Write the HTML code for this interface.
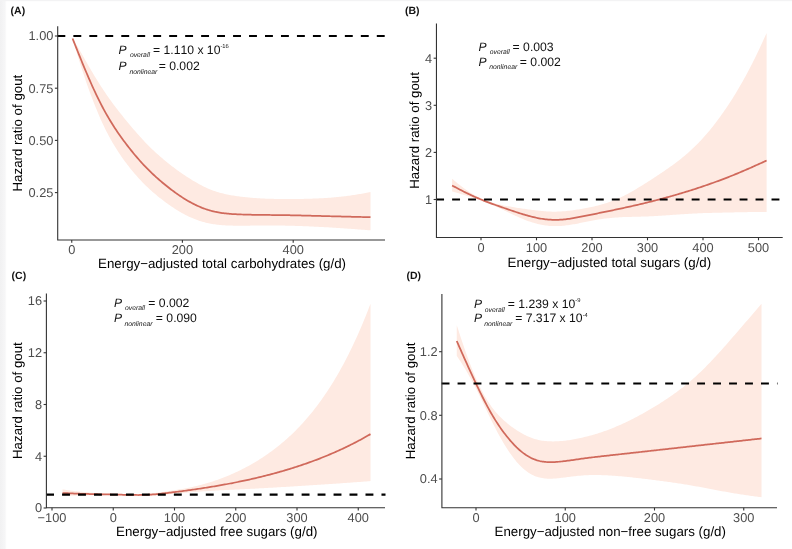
<!DOCTYPE html>
<html lang="en">
<head>
<meta charset="utf-8">
<title>Hazard ratio of gout by energy-adjusted carbohydrate and sugar intake</title>
<style>
html,body{margin:0;padding:0;background:#fff;}
body{width:792px;height:549px;overflow:hidden;position:relative;}
svg{position:absolute;left:0;top:0;display:block;will-change:transform;}
svg text{font-family:"Liberation Sans",Arial,Helvetica,sans-serif;text-rendering:geometricPrecision;}
</style>
</head>
<body>
<svg width="792" height="549" viewBox="0 0 792 549">
<defs><linearGradient id="lg" x1="0" y1="0" x2="1" y2="0"><stop offset="0" stop-color="#f1f1f2"/><stop offset="0.75" stop-color="#f6f6f7"/><stop offset="1" stop-color="#fcfcfc"/></linearGradient></defs>
<rect x="0" y="0" width="792" height="549" fill="#ffffff"/>
<rect x="0" y="0" width="6.3" height="549" fill="url(#lg)"/>
<rect x="0" y="0" width="792" height="1.2" fill="#f3f3f4"/>
<path d="M72.55 38.07 L73.80 40.16 L75.04 42.28 L76.29 44.42 L77.54 46.57 L78.78 48.74 L80.03 50.91 L81.28 53.10 L82.52 55.28 L83.77 57.47 L85.02 59.65 L86.26 61.83 L87.51 64.00 L88.76 66.16 L90.00 68.30 L91.25 70.43 L92.50 72.54 L93.74 74.63 L94.99 76.70 L96.24 78.74 L97.48 80.77 L98.73 82.77 L99.98 84.74 L101.22 86.69 L102.47 88.61 L103.72 90.50 L104.96 92.36 L106.21 94.19 L107.46 96.00 L108.70 97.78 L109.95 99.53 L111.20 101.26 L112.44 102.96 L113.69 104.64 L114.94 106.29 L116.18 107.93 L117.43 109.55 L118.68 111.15 L119.92 112.74 L121.17 114.31 L122.42 115.86 L123.66 117.40 L124.91 118.94 L126.16 120.46 L127.40 121.97 L128.65 123.47 L129.90 124.97 L131.14 126.45 L132.39 127.93 L133.64 129.39 L134.88 130.84 L136.13 132.28 L137.38 133.70 L138.62 135.11 L139.87 136.50 L141.12 137.87 L142.36 139.23 L143.61 140.56 L144.86 141.88 L146.10 143.18 L147.35 144.46 L148.60 145.72 L149.84 146.96 L151.09 148.18 L152.34 149.39 L153.58 150.57 L154.83 151.73 L156.08 152.88 L157.32 154.01 L158.57 155.12 L159.82 156.22 L161.06 157.30 L162.31 158.37 L163.56 159.42 L164.80 160.46 L166.05 161.48 L167.30 162.50 L168.54 163.50 L169.79 164.48 L171.04 165.46 L172.28 166.42 L173.53 167.37 L174.78 168.31 L176.02 169.23 L177.27 170.15 L178.52 171.05 L179.76 171.93 L181.01 172.81 L182.26 173.67 L183.50 174.52 L184.75 175.35 L186.00 176.18 L187.24 176.99 L188.49 177.80 L189.74 178.58 L190.98 179.36 L192.23 180.13 L193.48 180.88 L194.72 181.62 L195.97 182.35 L197.22 183.06 L198.46 183.76 L199.71 184.44 L200.96 185.11 L202.20 185.76 L203.45 186.39 L204.70 187.00 L205.94 187.59 L207.19 188.16 L208.44 188.71 L209.68 189.24 L210.93 189.74 L212.18 190.22 L213.42 190.68 L214.67 191.11 L215.92 191.53 L217.16 191.92 L218.41 192.30 L219.66 192.66 L220.90 192.99 L222.15 193.32 L223.39 193.62 L224.64 193.91 L225.89 194.19 L227.13 194.45 L228.38 194.70 L229.63 194.94 L230.87 195.16 L232.12 195.38 L233.37 195.58 L234.61 195.78 L235.86 195.96 L237.11 196.14 L238.35 196.31 L239.60 196.48 L240.85 196.64 L242.09 196.79 L243.34 196.94 L244.59 197.08 L245.83 197.21 L247.08 197.34 L248.33 197.47 L249.57 197.59 L250.82 197.70 L252.07 197.81 L253.31 197.91 L254.56 198.01 L255.81 198.10 L257.05 198.19 L258.30 198.27 L259.55 198.34 L260.79 198.41 L262.04 198.48 L263.29 198.54 L264.53 198.60 L265.78 198.65 L267.03 198.69 L268.27 198.74 L269.52 198.77 L270.77 198.81 L272.01 198.84 L273.26 198.87 L274.51 198.89 L275.75 198.91 L277.00 198.93 L278.25 198.95 L279.49 198.97 L280.74 198.98 L281.99 198.99 L283.23 199.00 L284.48 199.00 L285.73 199.01 L286.97 199.01 L288.22 199.01 L289.47 199.01 L290.71 199.01 L291.96 199.00 L293.21 199.00 L294.45 198.99 L295.70 198.98 L296.95 198.97 L298.19 198.95 L299.44 198.94 L300.69 198.92 L301.93 198.90 L303.18 198.88 L304.43 198.85 L305.67 198.83 L306.92 198.80 L308.17 198.77 L309.41 198.73 L310.66 198.70 L311.91 198.66 L313.15 198.61 L314.40 198.57 L315.65 198.52 L316.89 198.47 L318.14 198.41 L319.39 198.35 L320.63 198.29 L321.88 198.22 L323.13 198.15 L324.37 198.08 L325.62 198.00 L326.87 197.91 L328.11 197.83 L329.36 197.74 L330.61 197.64 L331.85 197.54 L333.10 197.44 L334.35 197.33 L335.59 197.21 L336.84 197.10 L338.09 196.97 L339.33 196.85 L340.58 196.71 L341.83 196.58 L343.07 196.43 L344.32 196.28 L345.57 196.13 L346.81 195.97 L348.06 195.81 L349.31 195.64 L350.55 195.46 L351.80 195.28 L353.05 195.09 L354.29 194.90 L355.54 194.71 L356.79 194.51 L358.03 194.30 L359.28 194.09 L360.53 193.88 L361.77 193.67 L363.02 193.45 L364.27 193.23 L365.51 193.01 L366.76 192.78 L368.01 192.56 L369.25 192.33 L370.50 192.10 L370.50 230.35 L369.25 230.25 L368.01 230.16 L366.76 230.06 L365.51 229.97 L364.27 229.87 L363.02 229.78 L361.77 229.68 L360.53 229.58 L359.28 229.49 L358.03 229.39 L356.79 229.30 L355.54 229.20 L354.29 229.11 L353.05 229.02 L351.80 228.92 L350.55 228.83 L349.31 228.74 L348.06 228.65 L346.81 228.56 L345.57 228.47 L344.32 228.39 L343.07 228.30 L341.83 228.22 L340.58 228.13 L339.33 228.05 L338.09 227.97 L336.84 227.89 L335.59 227.81 L334.35 227.74 L333.10 227.66 L331.85 227.59 L330.61 227.51 L329.36 227.44 L328.11 227.37 L326.87 227.30 L325.62 227.23 L324.37 227.16 L323.13 227.09 L321.88 227.02 L320.63 226.96 L319.39 226.89 L318.14 226.83 L316.89 226.77 L315.65 226.71 L314.40 226.65 L313.15 226.59 L311.91 226.53 L310.66 226.48 L309.41 226.42 L308.17 226.37 L306.92 226.31 L305.67 226.26 L304.43 226.21 L303.18 226.16 L301.93 226.12 L300.69 226.07 L299.44 226.03 L298.19 225.98 L296.95 225.94 L295.70 225.90 L294.45 225.86 L293.21 225.82 L291.96 225.79 L290.71 225.75 L289.47 225.72 L288.22 225.69 L286.97 225.66 L285.73 225.64 L284.48 225.61 L283.23 225.59 L281.99 225.57 L280.74 225.55 L279.49 225.54 L278.25 225.52 L277.00 225.51 L275.75 225.50 L274.51 225.50 L273.26 225.49 L272.01 225.49 L270.77 225.49 L269.52 225.49 L268.27 225.49 L267.03 225.49 L265.78 225.49 L264.53 225.50 L263.29 225.51 L262.04 225.52 L260.79 225.52 L259.55 225.53 L258.30 225.55 L257.05 225.56 L255.81 225.57 L254.56 225.58 L253.31 225.59 L252.07 225.60 L250.82 225.62 L249.57 225.63 L248.33 225.64 L247.08 225.65 L245.83 225.66 L244.59 225.66 L243.34 225.67 L242.09 225.67 L240.85 225.68 L239.60 225.68 L238.35 225.68 L237.11 225.67 L235.86 225.67 L234.61 225.65 L233.37 225.64 L232.12 225.62 L230.87 225.59 L229.63 225.56 L228.38 225.51 L227.13 225.46 L225.89 225.41 L224.64 225.34 L223.39 225.26 L222.15 225.17 L220.90 225.07 L219.66 224.96 L218.41 224.83 L217.16 224.69 L215.92 224.54 L214.67 224.37 L213.42 224.18 L212.18 223.98 L210.93 223.76 L209.68 223.52 L208.44 223.26 L207.19 222.98 L205.94 222.68 L204.70 222.36 L203.45 222.02 L202.20 221.66 L200.96 221.28 L199.71 220.89 L198.46 220.47 L197.22 220.03 L195.97 219.57 L194.72 219.09 L193.48 218.60 L192.23 218.08 L190.98 217.53 L189.74 216.97 L188.49 216.39 L187.24 215.79 L186.00 215.17 L184.75 214.53 L183.50 213.86 L182.26 213.18 L181.01 212.48 L179.76 211.75 L178.52 211.01 L177.27 210.25 L176.02 209.47 L174.78 208.68 L173.53 207.86 L172.28 207.03 L171.04 206.18 L169.79 205.32 L168.54 204.44 L167.30 203.55 L166.05 202.64 L164.80 201.72 L163.56 200.78 L162.31 199.83 L161.06 198.87 L159.82 197.89 L158.57 196.89 L157.32 195.88 L156.08 194.85 L154.83 193.80 L153.58 192.74 L152.34 191.65 L151.09 190.54 L149.84 189.41 L148.60 188.26 L147.35 187.09 L146.10 185.89 L144.86 184.66 L143.61 183.41 L142.36 182.14 L141.12 180.84 L139.87 179.51 L138.62 178.16 L137.38 176.78 L136.13 175.37 L134.88 173.94 L133.64 172.47 L132.39 170.98 L131.14 169.46 L129.90 167.91 L128.65 166.34 L127.40 164.73 L126.16 163.09 L124.91 161.41 L123.66 159.70 L122.42 157.96 L121.17 156.17 L119.92 154.35 L118.68 152.48 L117.43 150.56 L116.18 148.60 L114.94 146.58 L113.69 144.52 L112.44 142.40 L111.20 140.22 L109.95 137.98 L108.70 135.68 L107.46 133.31 L106.21 130.88 L104.96 128.38 L103.72 125.81 L102.47 123.17 L101.22 120.46 L99.98 117.67 L98.73 114.80 L97.48 111.87 L96.24 108.85 L94.99 105.77 L93.74 102.61 L92.50 99.37 L91.25 96.07 L90.00 92.69 L88.76 89.24 L87.51 85.72 L86.26 82.14 L85.02 78.49 L83.77 74.77 L82.52 71.00 L81.28 67.17 L80.03 63.28 L78.78 59.33 L77.54 55.33 L76.29 51.29 L75.04 47.19 L73.80 43.05 L72.55 38.88Z" fill="#feeae2"/>
<path d="M72.55 38.47 L73.80 41.61 L75.04 44.75 L76.29 47.88 L77.54 51.00 L78.78 54.11 L80.03 57.20 L81.28 60.27 L82.52 63.31 L83.77 66.33 L85.02 69.32 L86.26 72.28 L87.51 75.21 L88.76 78.10 L90.00 80.95 L91.25 83.76 L92.50 86.52 L93.74 89.24 L94.99 91.92 L96.24 94.55 L97.48 97.13 L98.73 99.67 L99.98 102.15 L101.22 104.59 L102.47 106.97 L103.72 109.30 L104.96 111.58 L106.21 113.81 L107.46 116.00 L108.70 118.14 L109.95 120.23 L111.20 122.28 L112.44 124.28 L113.69 126.24 L114.94 128.17 L116.18 130.05 L117.43 131.90 L118.68 133.72 L119.92 135.50 L121.17 137.26 L122.42 138.98 L123.66 140.68 L124.91 142.35 L126.16 144.00 L127.40 145.63 L128.65 147.23 L129.90 148.81 L131.14 150.38 L132.39 151.92 L133.64 153.44 L134.88 154.94 L136.13 156.41 L137.38 157.87 L138.62 159.30 L139.87 160.71 L141.12 162.10 L142.36 163.47 L143.61 164.81 L144.86 166.13 L146.10 167.43 L147.35 168.70 L148.60 169.96 L149.84 171.19 L151.09 172.40 L152.34 173.59 L153.58 174.76 L154.83 175.91 L156.08 177.04 L157.32 178.16 L158.57 179.26 L159.82 180.34 L161.06 181.40 L162.31 182.46 L163.56 183.49 L164.80 184.52 L166.05 185.53 L167.30 186.53 L168.54 187.52 L169.79 188.49 L171.04 189.45 L172.28 190.39 L173.53 191.32 L174.78 192.23 L176.02 193.13 L177.27 194.01 L178.52 194.88 L179.76 195.73 L181.01 196.56 L182.26 197.37 L183.50 198.17 L184.75 198.95 L186.00 199.71 L187.24 200.45 L188.49 201.17 L189.74 201.88 L190.98 202.56 L192.23 203.23 L193.48 203.87 L194.72 204.50 L195.97 205.11 L197.22 205.70 L198.46 206.26 L199.71 206.81 L200.96 207.33 L202.20 207.84 L203.45 208.32 L204.70 208.78 L205.94 209.22 L207.19 209.64 L208.44 210.04 L209.68 210.41 L210.93 210.76 L212.18 211.09 L213.42 211.39 L214.67 211.68 L215.92 211.94 L217.16 212.19 L218.41 212.42 L219.66 212.63 L220.90 212.83 L222.15 213.01 L223.39 213.18 L224.64 213.33 L225.89 213.47 L227.13 213.60 L228.38 213.72 L229.63 213.82 L230.87 213.92 L232.12 214.01 L233.37 214.09 L234.61 214.16 L235.86 214.23 L237.11 214.29 L238.35 214.35 L239.60 214.40 L240.85 214.45 L242.09 214.50 L243.34 214.54 L244.59 214.58 L245.83 214.62 L247.08 214.65 L248.33 214.68 L249.57 214.71 L250.82 214.74 L252.07 214.77 L253.31 214.79 L254.56 214.81 L255.81 214.83 L257.05 214.85 L258.30 214.87 L259.55 214.88 L260.79 214.90 L262.04 214.91 L263.29 214.93 L264.53 214.94 L265.78 214.95 L267.03 214.96 L268.27 214.97 L269.52 214.98 L270.77 215.00 L272.01 215.01 L273.26 215.02 L274.51 215.03 L275.75 215.04 L277.00 215.06 L278.25 215.07 L279.49 215.09 L280.74 215.10 L281.99 215.12 L283.23 215.14 L284.48 215.16 L285.73 215.18 L286.97 215.20 L288.22 215.22 L289.47 215.24 L290.71 215.27 L291.96 215.29 L293.21 215.32 L294.45 215.34 L295.70 215.37 L296.95 215.40 L298.19 215.43 L299.44 215.46 L300.69 215.49 L301.93 215.52 L303.18 215.55 L304.43 215.58 L305.67 215.61 L306.92 215.64 L308.17 215.67 L309.41 215.70 L310.66 215.73 L311.91 215.77 L313.15 215.80 L314.40 215.83 L315.65 215.86 L316.89 215.90 L318.14 215.93 L319.39 215.96 L320.63 215.99 L321.88 216.03 L323.13 216.06 L324.37 216.09 L325.62 216.12 L326.87 216.15 L328.11 216.18 L329.36 216.21 L330.61 216.25 L331.85 216.28 L333.10 216.31 L334.35 216.34 L335.59 216.37 L336.84 216.40 L338.09 216.43 L339.33 216.46 L340.58 216.49 L341.83 216.52 L343.07 216.55 L344.32 216.58 L345.57 216.61 L346.81 216.64 L348.06 216.67 L349.31 216.70 L350.55 216.73 L351.80 216.76 L353.05 216.79 L354.29 216.82 L355.54 216.85 L356.79 216.88 L358.03 216.91 L359.28 216.94 L360.53 216.97 L361.77 217.00 L363.02 217.02 L364.27 217.05 L365.51 217.08 L366.76 217.11 L368.01 217.14 L369.25 217.17 L370.50 217.20" fill="none" stroke="#d0695b" stroke-width="1.75" stroke-linejoin="round"/>
<line x1="57.400000000000006" y1="36" x2="385.2" y2="36" stroke="#000" stroke-width="2.05" stroke-dasharray="7.9 8.07"/>
<path d="M57.7 26.25 V240.0 H385" fill="none" stroke="#333333" stroke-width="1.1"/>
<line x1="54.900000000000006" y1="36" x2="57.7" y2="36" stroke="#333333" stroke-width="1.1"/>
<text x="53.400000000000006" y="40.3" text-anchor="end" font-size="12.8" fill="#4d4d4d">1.00</text>
<line x1="54.900000000000006" y1="88.2" x2="57.7" y2="88.2" stroke="#333333" stroke-width="1.1"/>
<text x="53.400000000000006" y="92.5" text-anchor="end" font-size="12.8" fill="#4d4d4d">0.75</text>
<line x1="54.900000000000006" y1="140.4" x2="57.7" y2="140.4" stroke="#333333" stroke-width="1.1"/>
<text x="53.400000000000006" y="144.70000000000002" text-anchor="end" font-size="12.8" fill="#4d4d4d">0.50</text>
<line x1="54.900000000000006" y1="192.6" x2="57.7" y2="192.6" stroke="#333333" stroke-width="1.1"/>
<text x="53.400000000000006" y="196.9" text-anchor="end" font-size="12.8" fill="#4d4d4d">0.25</text>
<line x1="71.75" y1="240.0" x2="71.75" y2="242.8" stroke="#333333" stroke-width="1.1"/>
<text x="71.75" y="254.2" text-anchor="middle" font-size="12.8" fill="#4d4d4d">0</text>
<line x1="182.4" y1="240.0" x2="182.4" y2="242.8" stroke="#333333" stroke-width="1.1"/>
<text x="182.4" y="254.2" text-anchor="middle" font-size="12.8" fill="#4d4d4d">200</text>
<line x1="293.2" y1="240.0" x2="293.2" y2="242.8" stroke="#333333" stroke-width="1.1"/>
<text x="293.2" y="254.2" text-anchor="middle" font-size="12.8" fill="#4d4d4d">400</text>
<text x="98.05" y="268.25" font-size="13.3" fill="#000">Energy−adjusted total carbohydrates (g/d)</text>
<text transform="translate(22.2 133.125) rotate(-90)" text-anchor="middle" font-size="13.3" fill="#000">Hazard ratio of gout</text>
<text x="10.6" y="13.6" font-size="10.5" font-weight="bold" fill="#111">(A)</text>
<text x="118.6" y="53.7" font-size="12.1" font-style="italic" fill="#111">P</text>
<text x="129.9" y="57.300000000000004" font-size="6.8" font-style="italic" fill="#111">overall</text>
<text x="153.0" y="53.7" font-size="12.2" style="font-kerning:none" fill="#111">= 1.110 x 10<tspan dy="-5.6" font-size="5.8">-16</tspan></text>
<text x="118.6" y="70.3" font-size="12.1" font-style="italic" fill="#111">P</text>
<text x="129.4" y="73.89999999999999" font-size="6.8" font-style="italic" fill="#111">nonlinear</text>
<text x="158.7" y="70.3" font-size="12.2" style="font-kerning:none" fill="#111">= 0.002</text>
<path d="M452.10 178.76 L453.42 179.87 L454.73 180.97 L456.05 182.06 L457.36 183.14 L458.68 184.19 L460.00 185.23 L461.31 186.25 L462.63 187.25 L463.94 188.23 L465.26 189.18 L466.57 190.11 L467.89 191.01 L469.21 191.88 L470.52 192.73 L471.84 193.55 L473.15 194.34 L474.47 195.10 L475.79 195.84 L477.10 196.54 L478.42 197.22 L479.73 197.86 L481.05 198.48 L482.37 199.06 L483.68 199.62 L485.00 200.15 L486.31 200.65 L487.63 201.13 L488.95 201.58 L490.26 202.02 L491.58 202.43 L492.89 202.82 L494.21 203.20 L495.52 203.56 L496.84 203.90 L498.16 204.22 L499.47 204.53 L500.79 204.83 L502.10 205.11 L503.42 205.38 L504.74 205.64 L506.05 205.89 L507.37 206.13 L508.68 206.37 L510.00 206.60 L511.32 206.82 L512.63 207.04 L513.95 207.25 L515.26 207.47 L516.58 207.67 L517.89 207.88 L519.21 208.08 L520.53 208.28 L521.84 208.47 L523.16 208.67 L524.47 208.86 L525.79 209.05 L527.11 209.24 L528.42 209.42 L529.74 209.60 L531.05 209.78 L532.37 209.95 L533.69 210.12 L535.00 210.28 L536.32 210.44 L537.63 210.59 L538.95 210.74 L540.27 210.87 L541.58 211.00 L542.90 211.12 L544.21 211.24 L545.53 211.34 L546.84 211.42 L548.16 211.50 L549.48 211.56 L550.79 211.61 L552.11 211.64 L553.42 211.66 L554.74 211.67 L556.06 211.65 L557.37 211.62 L558.69 211.58 L560.00 211.52 L561.32 211.45 L562.64 211.36 L563.95 211.26 L565.27 211.14 L566.58 211.01 L567.90 210.87 L569.22 210.71 L570.53 210.55 L571.85 210.38 L573.16 210.19 L574.48 210.00 L575.79 209.81 L577.11 209.60 L578.43 209.39 L579.74 209.17 L581.06 208.95 L582.37 208.72 L583.69 208.49 L585.01 208.25 L586.32 208.01 L587.64 207.76 L588.95 207.50 L590.27 207.24 L591.59 206.96 L592.90 206.68 L594.22 206.38 L595.53 206.08 L596.85 205.76 L598.16 205.43 L599.48 205.09 L600.80 204.74 L602.11 204.37 L603.43 203.98 L604.74 203.59 L606.06 203.17 L607.38 202.74 L608.69 202.29 L610.01 201.82 L611.32 201.34 L612.64 200.84 L613.96 200.32 L615.27 199.78 L616.59 199.23 L617.90 198.65 L619.22 198.06 L620.54 197.45 L621.85 196.82 L623.17 196.17 L624.48 195.51 L625.80 194.83 L627.11 194.13 L628.43 193.42 L629.75 192.69 L631.06 191.95 L632.38 191.20 L633.69 190.44 L635.01 189.67 L636.33 188.89 L637.64 188.11 L638.96 187.31 L640.27 186.51 L641.59 185.70 L642.91 184.89 L644.22 184.07 L645.54 183.24 L646.85 182.41 L648.17 181.57 L649.48 180.73 L650.80 179.88 L652.12 179.03 L653.43 178.18 L654.75 177.32 L656.06 176.45 L657.38 175.59 L658.70 174.72 L660.01 173.84 L661.33 172.96 L662.64 172.07 L663.96 171.18 L665.28 170.28 L666.59 169.37 L667.91 168.45 L669.22 167.52 L670.54 166.59 L671.86 165.64 L673.17 164.68 L674.49 163.71 L675.80 162.72 L677.12 161.72 L678.43 160.71 L679.75 159.68 L681.07 158.64 L682.38 157.57 L683.70 156.49 L685.01 155.39 L686.33 154.27 L687.65 153.13 L688.96 151.97 L690.28 150.78 L691.59 149.58 L692.91 148.35 L694.23 147.09 L695.54 145.81 L696.86 144.51 L698.17 143.18 L699.49 141.82 L700.81 140.43 L702.12 139.02 L703.44 137.58 L704.75 136.11 L706.07 134.61 L707.38 133.08 L708.70 131.52 L710.02 129.93 L711.33 128.31 L712.65 126.67 L713.96 125.00 L715.28 123.29 L716.60 121.56 L717.91 119.81 L719.23 118.02 L720.54 116.21 L721.86 114.37 L723.18 112.50 L724.49 110.61 L725.81 108.69 L727.12 106.74 L728.44 104.76 L729.75 102.76 L731.07 100.72 L732.39 98.66 L733.70 96.56 L735.02 94.43 L736.33 92.27 L737.65 90.08 L738.97 87.85 L740.28 85.59 L741.60 83.30 L742.91 80.97 L744.23 78.60 L745.55 76.20 L746.86 73.77 L748.18 71.29 L749.49 68.79 L750.81 66.25 L752.13 63.67 L753.44 61.05 L754.76 58.40 L756.07 55.71 L757.39 52.99 L758.70 50.23 L760.02 47.44 L761.34 44.61 L762.65 41.76 L763.97 38.86 L765.28 35.94 L766.60 32.98 L766.60 211.91 L765.28 211.92 L763.97 211.92 L762.65 211.93 L761.34 211.94 L760.02 211.95 L758.70 211.96 L757.39 211.98 L756.07 211.99 L754.76 212.01 L753.44 212.02 L752.13 212.04 L750.81 212.06 L749.49 212.08 L748.18 212.11 L746.86 212.13 L745.55 212.15 L744.23 212.18 L742.91 212.20 L741.60 212.22 L740.28 212.25 L738.97 212.28 L737.65 212.30 L736.33 212.33 L735.02 212.36 L733.70 212.39 L732.39 212.42 L731.07 212.44 L729.75 212.47 L728.44 212.50 L727.12 212.53 L725.81 212.56 L724.49 212.59 L723.18 212.62 L721.86 212.64 L720.54 212.67 L719.23 212.70 L717.91 212.73 L716.60 212.76 L715.28 212.79 L713.96 212.82 L712.65 212.85 L711.33 212.88 L710.02 212.92 L708.70 212.95 L707.38 212.99 L706.07 213.03 L704.75 213.07 L703.44 213.12 L702.12 213.17 L700.81 213.22 L699.49 213.27 L698.17 213.33 L696.86 213.39 L695.54 213.45 L694.23 213.52 L692.91 213.59 L691.59 213.66 L690.28 213.73 L688.96 213.81 L687.65 213.88 L686.33 213.97 L685.01 214.05 L683.70 214.13 L682.38 214.22 L681.07 214.31 L679.75 214.40 L678.43 214.49 L677.12 214.58 L675.80 214.68 L674.49 214.77 L673.17 214.86 L671.86 214.96 L670.54 215.05 L669.22 215.15 L667.91 215.24 L666.59 215.33 L665.28 215.42 L663.96 215.51 L662.64 215.60 L661.33 215.68 L660.01 215.77 L658.70 215.85 L657.38 215.93 L656.06 216.00 L654.75 216.07 L653.43 216.14 L652.12 216.21 L650.80 216.27 L649.48 216.33 L648.17 216.38 L646.85 216.44 L645.54 216.49 L644.22 216.53 L642.91 216.58 L641.59 216.62 L640.27 216.66 L638.96 216.69 L637.64 216.73 L636.33 216.76 L635.01 216.80 L633.69 216.83 L632.38 216.86 L631.06 216.89 L629.75 216.92 L628.43 216.95 L627.11 216.99 L625.80 217.03 L624.48 217.07 L623.17 217.12 L621.85 217.18 L620.54 217.24 L619.22 217.31 L617.90 217.38 L616.59 217.46 L615.27 217.55 L613.96 217.65 L612.64 217.76 L611.32 217.88 L610.01 218.01 L608.69 218.14 L607.38 218.29 L606.06 218.45 L604.74 218.61 L603.43 218.79 L602.11 218.97 L600.80 219.17 L599.48 219.37 L598.16 219.58 L596.85 219.80 L595.53 220.03 L594.22 220.26 L592.90 220.50 L591.59 220.75 L590.27 221.01 L588.95 221.26 L587.64 221.53 L586.32 221.79 L585.01 222.05 L583.69 222.32 L582.37 222.59 L581.06 222.85 L579.74 223.12 L578.43 223.38 L577.11 223.64 L575.79 223.89 L574.48 224.13 L573.16 224.36 L571.85 224.59 L570.53 224.80 L569.22 225.00 L567.90 225.19 L566.58 225.36 L565.27 225.52 L563.95 225.66 L562.64 225.79 L561.32 225.89 L560.00 225.98 L558.69 226.04 L557.37 226.09 L556.06 226.11 L554.74 226.11 L553.42 226.08 L552.11 226.04 L550.79 225.97 L549.48 225.88 L548.16 225.76 L546.84 225.62 L545.53 225.45 L544.21 225.26 L542.90 225.04 L541.58 224.80 L540.27 224.54 L538.95 224.25 L537.63 223.94 L536.32 223.60 L535.00 223.24 L533.69 222.86 L532.37 222.46 L531.05 222.04 L529.74 221.59 L528.42 221.13 L527.11 220.65 L525.79 220.15 L524.47 219.63 L523.16 219.10 L521.84 218.55 L520.53 217.99 L519.21 217.42 L517.89 216.83 L516.58 216.24 L515.26 215.63 L513.95 215.02 L512.63 214.41 L511.32 213.78 L510.00 213.16 L508.68 212.53 L507.37 211.91 L506.05 211.29 L504.74 210.66 L503.42 210.04 L502.10 209.43 L500.79 208.82 L499.47 208.22 L498.16 207.62 L496.84 207.03 L495.52 206.44 L494.21 205.86 L492.89 205.29 L491.58 204.73 L490.26 204.17 L488.95 203.62 L487.63 203.09 L486.31 202.56 L485.00 202.04 L483.68 201.53 L482.37 201.03 L481.05 200.54 L479.73 200.07 L478.42 199.60 L477.10 199.14 L475.79 198.69 L474.47 198.25 L473.15 197.82 L471.84 197.39 L470.52 196.97 L469.21 196.56 L467.89 196.15 L466.57 195.74 L465.26 195.34 L463.94 194.94 L462.63 194.54 L461.31 194.15 L460.00 193.76 L458.68 193.37 L457.36 192.99 L456.05 192.61 L454.73 192.24 L453.42 191.87 L452.10 191.51Z" fill="#feeae2"/>
<path d="M452.10 185.46 L453.42 186.17 L454.73 186.87 L456.05 187.57 L457.36 188.27 L458.68 188.97 L460.00 189.66 L461.31 190.34 L462.63 191.02 L463.94 191.69 L465.26 192.35 L466.57 193.00 L467.89 193.64 L469.21 194.27 L470.52 194.89 L471.84 195.51 L473.15 196.11 L474.47 196.70 L475.79 197.29 L477.10 197.86 L478.42 198.42 L479.73 198.98 L481.05 199.52 L482.37 200.06 L483.68 200.58 L485.00 201.10 L486.31 201.61 L487.63 202.12 L488.95 202.62 L490.26 203.11 L491.58 203.59 L492.89 204.07 L494.21 204.55 L495.52 205.02 L496.84 205.49 L498.16 205.95 L499.47 206.42 L500.79 206.87 L502.10 207.33 L503.42 207.78 L504.74 208.23 L506.05 208.68 L507.37 209.13 L508.68 209.58 L510.00 210.03 L511.32 210.47 L512.63 210.91 L513.95 211.35 L515.26 211.79 L516.58 212.22 L517.89 212.65 L519.21 213.07 L520.53 213.49 L521.84 213.90 L523.16 214.30 L524.47 214.70 L525.79 215.08 L527.11 215.46 L528.42 215.83 L529.74 216.18 L531.05 216.52 L532.37 216.85 L533.69 217.17 L535.00 217.47 L536.32 217.76 L537.63 218.03 L538.95 218.29 L540.27 218.53 L541.58 218.75 L542.90 218.95 L544.21 219.13 L545.53 219.29 L546.84 219.43 L548.16 219.55 L549.48 219.65 L550.79 219.73 L552.11 219.79 L553.42 219.83 L554.74 219.84 L556.06 219.84 L557.37 219.81 L558.69 219.77 L560.00 219.70 L561.32 219.62 L562.64 219.52 L563.95 219.40 L565.27 219.26 L566.58 219.11 L567.90 218.94 L569.22 218.76 L570.53 218.57 L571.85 218.36 L573.16 218.15 L574.48 217.92 L575.79 217.69 L577.11 217.45 L578.43 217.21 L579.74 216.96 L581.06 216.70 L582.37 216.44 L583.69 216.18 L585.01 215.92 L586.32 215.66 L587.64 215.39 L588.95 215.13 L590.27 214.86 L591.59 214.59 L592.90 214.32 L594.22 214.05 L595.53 213.79 L596.85 213.52 L598.16 213.25 L599.48 212.98 L600.80 212.71 L602.11 212.44 L603.43 212.17 L604.74 211.90 L606.06 211.63 L607.38 211.36 L608.69 211.09 L610.01 210.82 L611.32 210.55 L612.64 210.27 L613.96 210.00 L615.27 209.72 L616.59 209.45 L617.90 209.17 L619.22 208.89 L620.54 208.61 L621.85 208.33 L623.17 208.04 L624.48 207.76 L625.80 207.47 L627.11 207.18 L628.43 206.89 L629.75 206.60 L631.06 206.31 L632.38 206.01 L633.69 205.71 L635.01 205.41 L636.33 205.11 L637.64 204.80 L638.96 204.49 L640.27 204.18 L641.59 203.87 L642.91 203.56 L644.22 203.24 L645.54 202.92 L646.85 202.60 L648.17 202.27 L649.48 201.94 L650.80 201.62 L652.12 201.28 L653.43 200.95 L654.75 200.61 L656.06 200.27 L657.38 199.93 L658.70 199.58 L660.01 199.24 L661.33 198.89 L662.64 198.53 L663.96 198.18 L665.28 197.82 L666.59 197.46 L667.91 197.09 L669.22 196.73 L670.54 196.36 L671.86 195.99 L673.17 195.61 L674.49 195.23 L675.80 194.85 L677.12 194.47 L678.43 194.08 L679.75 193.70 L681.07 193.30 L682.38 192.91 L683.70 192.51 L685.01 192.11 L686.33 191.71 L687.65 191.30 L688.96 190.89 L690.28 190.48 L691.59 190.06 L692.91 189.65 L694.23 189.22 L695.54 188.80 L696.86 188.37 L698.17 187.94 L699.49 187.51 L700.81 187.07 L702.12 186.63 L703.44 186.18 L704.75 185.74 L706.07 185.28 L707.38 184.83 L708.70 184.37 L710.02 183.91 L711.33 183.45 L712.65 182.98 L713.96 182.50 L715.28 182.03 L716.60 181.55 L717.91 181.07 L719.23 180.58 L720.54 180.09 L721.86 179.59 L723.18 179.09 L724.49 178.59 L725.81 178.08 L727.12 177.57 L728.44 177.06 L729.75 176.54 L731.07 176.01 L732.39 175.49 L733.70 174.95 L735.02 174.42 L736.33 173.88 L737.65 173.33 L738.97 172.79 L740.28 172.23 L741.60 171.68 L742.91 171.12 L744.23 170.55 L745.55 169.98 L746.86 169.41 L748.18 168.84 L749.49 168.26 L750.81 167.68 L752.13 167.09 L753.44 166.50 L754.76 165.91 L756.07 165.32 L757.39 164.72 L758.70 164.13 L760.02 163.53 L761.34 162.93 L762.65 162.33 L763.97 161.72 L765.28 161.12 L766.60 160.52" fill="none" stroke="#d0695b" stroke-width="1.75" stroke-linejoin="round"/>
<line x1="436.15" y1="199.5" x2="779.5" y2="199.5" stroke="#000" stroke-width="2.05" stroke-dasharray="7.9 8.07"/>
<path d="M436.45 23.4 V237.5 H782.7" fill="none" stroke="#333333" stroke-width="1.1"/>
<line x1="433.65" y1="58.2" x2="436.45" y2="58.2" stroke="#333333" stroke-width="1.1"/>
<text x="432.15" y="62.5" text-anchor="end" font-size="12.8" fill="#4d4d4d">4</text>
<line x1="433.65" y1="105.3" x2="436.45" y2="105.3" stroke="#333333" stroke-width="1.1"/>
<text x="432.15" y="109.6" text-anchor="end" font-size="12.8" fill="#4d4d4d">3</text>
<line x1="433.65" y1="152.4" x2="436.45" y2="152.4" stroke="#333333" stroke-width="1.1"/>
<text x="432.15" y="156.70000000000002" text-anchor="end" font-size="12.8" fill="#4d4d4d">2</text>
<line x1="433.65" y1="199.5" x2="436.45" y2="199.5" stroke="#333333" stroke-width="1.1"/>
<text x="432.15" y="203.8" text-anchor="end" font-size="12.8" fill="#4d4d4d">1</text>
<line x1="481" y1="237.5" x2="481" y2="240.3" stroke="#333333" stroke-width="1.1"/>
<text x="481" y="251.7" text-anchor="middle" font-size="12.8" fill="#4d4d4d">0</text>
<line x1="536.5" y1="237.5" x2="536.5" y2="240.3" stroke="#333333" stroke-width="1.1"/>
<text x="536.5" y="251.7" text-anchor="middle" font-size="12.8" fill="#4d4d4d">100</text>
<line x1="592" y1="237.5" x2="592" y2="240.3" stroke="#333333" stroke-width="1.1"/>
<text x="592" y="251.7" text-anchor="middle" font-size="12.8" fill="#4d4d4d">200</text>
<line x1="647.5" y1="237.5" x2="647.5" y2="240.3" stroke="#333333" stroke-width="1.1"/>
<text x="647.5" y="251.7" text-anchor="middle" font-size="12.8" fill="#4d4d4d">300</text>
<line x1="703" y1="237.5" x2="703" y2="240.3" stroke="#333333" stroke-width="1.1"/>
<text x="703" y="251.7" text-anchor="middle" font-size="12.8" fill="#4d4d4d">400</text>
<line x1="758.5" y1="237.5" x2="758.5" y2="240.3" stroke="#333333" stroke-width="1.1"/>
<text x="758.5" y="251.7" text-anchor="middle" font-size="12.8" fill="#4d4d4d">500</text>
<text x="507.55" y="266.5" font-size="13.3" fill="#000">Energy−adjusted total sugars (g/d)</text>
<text transform="translate(419.3 130.45) rotate(-90)" text-anchor="middle" font-size="13.3" fill="#000">Hazard ratio of gout</text>
<text x="404.9" y="13.6" font-size="10.5" font-weight="bold" fill="#111">(B)</text>
<text x="478.5" y="50.5" font-size="12.1" font-style="italic" fill="#111">P</text>
<text x="489.75" y="54.1" font-size="6.8" font-style="italic" fill="#111">overall</text>
<text x="512.6" y="50.5" font-size="12.2" style="font-kerning:none" fill="#111">= 0.003</text>
<text x="478.5" y="65.5" font-size="12.1" font-style="italic" fill="#111">P</text>
<text x="489.25" y="69.1" font-size="6.8" font-style="italic" fill="#111">nonlinear</text>
<text x="519.85" y="65.5" font-size="12.2" style="font-kerning:none" fill="#111">= 0.002</text>
<path d="M62.50 489.43 L63.79 489.62 L65.08 489.80 L66.37 489.98 L67.65 490.16 L68.94 490.33 L70.23 490.50 L71.52 490.67 L72.81 490.83 L74.10 490.99 L75.39 491.15 L76.68 491.30 L77.96 491.45 L79.25 491.59 L80.54 491.73 L81.83 491.87 L83.12 492.00 L84.41 492.13 L85.70 492.25 L86.99 492.37 L88.27 492.48 L89.56 492.59 L90.85 492.70 L92.14 492.80 L93.43 492.90 L94.72 492.99 L96.01 493.08 L97.29 493.17 L98.58 493.25 L99.87 493.33 L101.16 493.40 L102.45 493.47 L103.74 493.54 L105.03 493.60 L106.32 493.66 L107.60 493.72 L108.89 493.77 L110.18 493.81 L111.47 493.85 L112.76 493.89 L114.05 493.93 L115.34 493.96 L116.63 493.99 L117.91 494.01 L119.20 494.04 L120.49 494.06 L121.78 494.07 L123.07 494.09 L124.36 494.10 L125.65 494.11 L126.94 494.12 L128.22 494.12 L129.51 494.12 L130.80 494.12 L132.09 494.12 L133.38 494.11 L134.67 494.10 L135.96 494.09 L137.24 494.07 L138.53 494.04 L139.82 494.01 L141.11 493.97 L142.40 493.92 L143.69 493.86 L144.98 493.79 L146.27 493.71 L147.55 493.63 L148.84 493.53 L150.13 493.43 L151.42 493.32 L152.71 493.20 L154.00 493.08 L155.29 492.95 L156.58 492.80 L157.86 492.65 L159.15 492.49 L160.44 492.32 L161.73 492.14 L163.02 491.96 L164.31 491.77 L165.60 491.58 L166.88 491.39 L168.17 491.19 L169.46 491.00 L170.75 490.80 L172.04 490.60 L173.33 490.40 L174.62 490.20 L175.91 490.00 L177.19 489.79 L178.48 489.58 L179.77 489.36 L181.06 489.14 L182.35 488.92 L183.64 488.69 L184.93 488.45 L186.22 488.20 L187.50 487.95 L188.79 487.70 L190.08 487.43 L191.37 487.16 L192.66 486.88 L193.95 486.59 L195.24 486.29 L196.53 485.99 L197.81 485.67 L199.10 485.35 L200.39 485.02 L201.68 484.68 L202.97 484.33 L204.26 483.98 L205.55 483.61 L206.83 483.24 L208.12 482.85 L209.41 482.46 L210.70 482.06 L211.99 481.65 L213.28 481.23 L214.57 480.80 L215.86 480.36 L217.14 479.91 L218.43 479.45 L219.72 478.99 L221.01 478.51 L222.30 478.03 L223.59 477.53 L224.88 477.02 L226.17 476.51 L227.45 475.98 L228.74 475.45 L230.03 474.90 L231.32 474.34 L232.61 473.77 L233.90 473.19 L235.19 472.61 L236.47 472.01 L237.76 471.40 L239.05 470.77 L240.34 470.14 L241.63 469.50 L242.92 468.85 L244.21 468.19 L245.50 467.51 L246.78 466.83 L248.07 466.13 L249.36 465.42 L250.65 464.70 L251.94 463.97 L253.23 463.23 L254.52 462.47 L255.81 461.70 L257.09 460.92 L258.38 460.13 L259.67 459.32 L260.96 458.50 L262.25 457.66 L263.54 456.82 L264.83 455.95 L266.12 455.08 L267.40 454.19 L268.69 453.28 L269.98 452.36 L271.27 451.43 L272.56 450.48 L273.85 449.51 L275.14 448.53 L276.42 447.53 L277.71 446.52 L279.00 445.49 L280.29 444.44 L281.58 443.37 L282.87 442.29 L284.16 441.18 L285.45 440.06 L286.73 438.92 L288.02 437.76 L289.31 436.58 L290.60 435.39 L291.89 434.17 L293.18 432.93 L294.47 431.67 L295.76 430.38 L297.04 429.08 L298.33 427.76 L299.62 426.41 L300.91 425.04 L302.20 423.65 L303.49 422.23 L304.78 420.79 L306.06 419.33 L307.35 417.84 L308.64 416.33 L309.93 414.79 L311.22 413.22 L312.51 411.63 L313.80 410.01 L315.09 408.36 L316.37 406.68 L317.66 404.98 L318.95 403.24 L320.24 401.48 L321.53 399.69 L322.82 397.86 L324.11 396.01 L325.40 394.12 L326.68 392.21 L327.97 390.26 L329.26 388.28 L330.55 386.26 L331.84 384.21 L333.13 382.13 L334.42 380.01 L335.71 377.85 L336.99 375.66 L338.28 373.43 L339.57 371.16 L340.86 368.86 L342.15 366.51 L343.44 364.13 L344.73 361.71 L346.01 359.25 L347.30 356.74 L348.59 354.20 L349.88 351.61 L351.17 348.98 L352.46 346.31 L353.75 343.59 L355.04 340.82 L356.32 338.01 L357.61 335.15 L358.90 332.24 L360.19 329.28 L361.48 326.26 L362.77 323.20 L364.06 320.08 L365.35 316.91 L366.63 313.69 L367.92 310.42 L369.21 307.11 L370.50 303.76 L370.50 481.10 L369.21 481.19 L367.92 481.29 L366.63 481.39 L365.35 481.49 L364.06 481.59 L362.77 481.68 L361.48 481.78 L360.19 481.88 L358.90 481.98 L357.61 482.07 L356.32 482.17 L355.04 482.26 L353.75 482.36 L352.46 482.45 L351.17 482.55 L349.88 482.64 L348.59 482.73 L347.30 482.83 L346.01 482.92 L344.73 483.01 L343.44 483.10 L342.15 483.19 L340.86 483.29 L339.57 483.38 L338.28 483.47 L336.99 483.56 L335.71 483.65 L334.42 483.74 L333.13 483.83 L331.84 483.91 L330.55 484.00 L329.26 484.09 L327.97 484.18 L326.68 484.26 L325.40 484.35 L324.11 484.44 L322.82 484.52 L321.53 484.61 L320.24 484.69 L318.95 484.78 L317.66 484.86 L316.37 484.95 L315.09 485.03 L313.80 485.12 L312.51 485.20 L311.22 485.28 L309.93 485.37 L308.64 485.45 L307.35 485.53 L306.06 485.61 L304.78 485.69 L303.49 485.78 L302.20 485.86 L300.91 485.94 L299.62 486.02 L298.33 486.10 L297.04 486.18 L295.76 486.26 L294.47 486.34 L293.18 486.42 L291.89 486.50 L290.60 486.58 L289.31 486.65 L288.02 486.73 L286.73 486.81 L285.45 486.89 L284.16 486.97 L282.87 487.04 L281.58 487.12 L280.29 487.19 L279.00 487.27 L277.71 487.34 L276.42 487.42 L275.14 487.49 L273.85 487.57 L272.56 487.64 L271.27 487.71 L269.98 487.79 L268.69 487.86 L267.40 487.93 L266.12 488.00 L264.83 488.07 L263.54 488.14 L262.25 488.21 L260.96 488.28 L259.67 488.35 L258.38 488.42 L257.09 488.49 L255.81 488.56 L254.52 488.63 L253.23 488.70 L251.94 488.76 L250.65 488.83 L249.36 488.90 L248.07 488.96 L246.78 489.03 L245.50 489.09 L244.21 489.16 L242.92 489.22 L241.63 489.29 L240.34 489.35 L239.05 489.41 L237.76 489.48 L236.47 489.54 L235.19 489.60 L233.90 489.67 L232.61 489.73 L231.32 489.79 L230.03 489.85 L228.74 489.92 L227.45 489.98 L226.17 490.04 L224.88 490.11 L223.59 490.17 L222.30 490.24 L221.01 490.31 L219.72 490.37 L218.43 490.44 L217.14 490.51 L215.86 490.58 L214.57 490.65 L213.28 490.73 L211.99 490.80 L210.70 490.88 L209.41 490.95 L208.12 491.03 L206.83 491.11 L205.55 491.19 L204.26 491.28 L202.97 491.36 L201.68 491.45 L200.39 491.54 L199.10 491.63 L197.81 491.72 L196.53 491.82 L195.24 491.91 L193.95 492.01 L192.66 492.12 L191.37 492.22 L190.08 492.33 L188.79 492.44 L187.50 492.55 L186.22 492.66 L184.93 492.78 L183.64 492.90 L182.35 493.02 L181.06 493.14 L179.77 493.26 L178.48 493.38 L177.19 493.50 L175.91 493.62 L174.62 493.75 L173.33 493.87 L172.04 493.99 L170.75 494.12 L169.46 494.24 L168.17 494.37 L166.88 494.49 L165.60 494.62 L164.31 494.74 L163.02 494.86 L161.73 494.98 L160.44 495.09 L159.15 495.20 L157.86 495.30 L156.58 495.39 L155.29 495.47 L154.00 495.55 L152.71 495.62 L151.42 495.68 L150.13 495.74 L148.84 495.78 L147.55 495.83 L146.27 495.86 L144.98 495.89 L143.69 495.91 L142.40 495.91 L141.11 495.91 L139.82 495.90 L138.53 495.89 L137.24 495.86 L135.96 495.83 L134.67 495.80 L133.38 495.76 L132.09 495.72 L130.80 495.67 L129.51 495.63 L128.22 495.58 L126.94 495.54 L125.65 495.49 L124.36 495.45 L123.07 495.41 L121.78 495.37 L120.49 495.33 L119.20 495.29 L117.91 495.26 L116.63 495.23 L115.34 495.20 L114.05 495.18 L112.76 495.16 L111.47 495.14 L110.18 495.13 L108.89 495.13 L107.60 495.12 L106.32 495.12 L105.03 495.13 L103.74 495.13 L102.45 495.14 L101.16 495.15 L99.87 495.16 L98.58 495.18 L97.29 495.19 L96.01 495.21 L94.72 495.23 L93.43 495.25 L92.14 495.28 L90.85 495.30 L89.56 495.33 L88.27 495.35 L86.99 495.38 L85.70 495.41 L84.41 495.44 L83.12 495.46 L81.83 495.49 L80.54 495.52 L79.25 495.55 L77.96 495.57 L76.68 495.60 L75.39 495.63 L74.10 495.65 L72.81 495.68 L71.52 495.70 L70.23 495.73 L68.94 495.75 L67.65 495.77 L66.37 495.80 L65.08 495.82 L63.79 495.84 L62.50 495.87Z" fill="#feeae2"/>
<path d="M62.50 493.00 L63.79 493.06 L65.08 493.12 L66.37 493.18 L67.65 493.24 L68.94 493.30 L70.23 493.35 L71.52 493.41 L72.81 493.46 L74.10 493.51 L75.39 493.57 L76.68 493.62 L77.96 493.66 L79.25 493.71 L80.54 493.76 L81.83 493.80 L83.12 493.84 L84.41 493.88 L85.70 493.92 L86.99 493.96 L88.27 493.99 L89.56 494.03 L90.85 494.06 L92.14 494.10 L93.43 494.13 L94.72 494.16 L96.01 494.19 L97.29 494.22 L98.58 494.25 L99.87 494.28 L101.16 494.31 L102.45 494.33 L103.74 494.36 L105.03 494.39 L106.32 494.41 L107.60 494.44 L108.89 494.46 L110.18 494.49 L111.47 494.52 L112.76 494.54 L114.05 494.57 L115.34 494.59 L116.63 494.62 L117.91 494.65 L119.20 494.68 L120.49 494.71 L121.78 494.74 L123.07 494.76 L124.36 494.79 L125.65 494.82 L126.94 494.85 L128.22 494.87 L129.51 494.90 L130.80 494.92 L132.09 494.94 L133.38 494.96 L134.67 494.98 L135.96 494.99 L137.24 495.00 L138.53 495.00 L139.82 494.99 L141.11 494.98 L142.40 494.95 L143.69 494.92 L144.98 494.88 L146.27 494.83 L147.55 494.77 L148.84 494.71 L150.13 494.63 L151.42 494.55 L152.71 494.47 L154.00 494.37 L155.29 494.27 L156.58 494.16 L157.86 494.04 L159.15 493.91 L160.44 493.78 L161.73 493.63 L163.02 493.48 L164.31 493.33 L165.60 493.18 L166.88 493.02 L168.17 492.86 L169.46 492.71 L170.75 492.55 L172.04 492.39 L173.33 492.23 L174.62 492.08 L175.91 491.92 L177.19 491.75 L178.48 491.59 L179.77 491.43 L181.06 491.26 L182.35 491.09 L183.64 490.93 L184.93 490.75 L186.22 490.58 L187.50 490.41 L188.79 490.23 L190.08 490.05 L191.37 489.87 L192.66 489.69 L193.95 489.50 L195.24 489.32 L196.53 489.13 L197.81 488.94 L199.10 488.75 L200.39 488.56 L201.68 488.36 L202.97 488.16 L204.26 487.96 L205.55 487.76 L206.83 487.56 L208.12 487.35 L209.41 487.14 L210.70 486.93 L211.99 486.72 L213.28 486.51 L214.57 486.29 L215.86 486.07 L217.14 485.85 L218.43 485.63 L219.72 485.40 L221.01 485.17 L222.30 484.94 L223.59 484.71 L224.88 484.48 L226.17 484.24 L227.45 484.00 L228.74 483.76 L230.03 483.51 L231.32 483.27 L232.61 483.02 L233.90 482.76 L235.19 482.51 L236.47 482.25 L237.76 481.99 L239.05 481.72 L240.34 481.46 L241.63 481.19 L242.92 480.92 L244.21 480.64 L245.50 480.37 L246.78 480.09 L248.07 479.80 L249.36 479.52 L250.65 479.23 L251.94 478.94 L253.23 478.64 L254.52 478.35 L255.81 478.05 L257.09 477.74 L258.38 477.43 L259.67 477.12 L260.96 476.81 L262.25 476.49 L263.54 476.17 L264.83 475.85 L266.12 475.52 L267.40 475.19 L268.69 474.86 L269.98 474.53 L271.27 474.19 L272.56 473.84 L273.85 473.50 L275.14 473.15 L276.42 472.79 L277.71 472.44 L279.00 472.07 L280.29 471.71 L281.58 471.34 L282.87 470.97 L284.16 470.59 L285.45 470.21 L286.73 469.83 L288.02 469.44 L289.31 469.04 L290.60 468.65 L291.89 468.25 L293.18 467.84 L294.47 467.43 L295.76 467.02 L297.04 466.60 L298.33 466.18 L299.62 465.75 L300.91 465.32 L302.20 464.89 L303.49 464.45 L304.78 464.01 L306.06 463.56 L307.35 463.11 L308.64 462.65 L309.93 462.19 L311.22 461.72 L312.51 461.25 L313.80 460.78 L315.09 460.29 L316.37 459.81 L317.66 459.32 L318.95 458.82 L320.24 458.32 L321.53 457.81 L322.82 457.30 L324.11 456.78 L325.40 456.26 L326.68 455.73 L327.97 455.19 L329.26 454.65 L330.55 454.11 L331.84 453.56 L333.13 453.00 L334.42 452.44 L335.71 451.87 L336.99 451.30 L338.28 450.72 L339.57 450.14 L340.86 449.54 L342.15 448.95 L343.44 448.34 L344.73 447.73 L346.01 447.12 L347.30 446.49 L348.59 445.86 L349.88 445.23 L351.17 444.59 L352.46 443.94 L353.75 443.29 L355.04 442.63 L356.32 441.96 L357.61 441.28 L358.90 440.60 L360.19 439.91 L361.48 439.21 L362.77 438.50 L364.06 437.79 L365.35 437.07 L366.63 436.34 L367.92 435.61 L369.21 434.87 L370.50 434.13" fill="none" stroke="#d0695b" stroke-width="1.75" stroke-linejoin="round"/>
<line x1="46.1" y1="494.6" x2="385.5" y2="494.6" stroke="#000" stroke-width="2.05" stroke-dasharray="7.9 8.07"/>
<path d="M46.4 293.5 V507.7 H385" fill="none" stroke="#333333" stroke-width="1.1"/>
<line x1="43.6" y1="301" x2="46.4" y2="301" stroke="#333333" stroke-width="1.1"/>
<text x="42.1" y="305.3" text-anchor="end" font-size="12.8" fill="#4d4d4d">16</text>
<line x1="43.6" y1="352.75" x2="46.4" y2="352.75" stroke="#333333" stroke-width="1.1"/>
<text x="42.1" y="357.05" text-anchor="end" font-size="12.8" fill="#4d4d4d">12</text>
<line x1="43.6" y1="404.5" x2="46.4" y2="404.5" stroke="#333333" stroke-width="1.1"/>
<text x="42.1" y="408.8" text-anchor="end" font-size="12.8" fill="#4d4d4d">8</text>
<line x1="43.6" y1="456.25" x2="46.4" y2="456.25" stroke="#333333" stroke-width="1.1"/>
<text x="42.1" y="460.55" text-anchor="end" font-size="12.8" fill="#4d4d4d">4</text>
<line x1="43.6" y1="508" x2="46.4" y2="508" stroke="#333333" stroke-width="1.1"/>
<text x="42.1" y="512.3" text-anchor="end" font-size="12.8" fill="#4d4d4d">0</text>
<line x1="52" y1="507.7" x2="52" y2="510.5" stroke="#333333" stroke-width="1.1"/>
<text x="52" y="521.9" text-anchor="middle" font-size="12.8" fill="#4d4d4d">−100</text>
<line x1="113.25" y1="507.7" x2="113.25" y2="510.5" stroke="#333333" stroke-width="1.1"/>
<text x="113.25" y="521.9" text-anchor="middle" font-size="12.8" fill="#4d4d4d">0</text>
<line x1="174.5" y1="507.7" x2="174.5" y2="510.5" stroke="#333333" stroke-width="1.1"/>
<text x="174.5" y="521.9" text-anchor="middle" font-size="12.8" fill="#4d4d4d">100</text>
<line x1="235.75" y1="507.7" x2="235.75" y2="510.5" stroke="#333333" stroke-width="1.1"/>
<text x="235.75" y="521.9" text-anchor="middle" font-size="12.8" fill="#4d4d4d">200</text>
<line x1="297" y1="507.7" x2="297" y2="510.5" stroke="#333333" stroke-width="1.1"/>
<text x="297" y="521.9" text-anchor="middle" font-size="12.8" fill="#4d4d4d">300</text>
<line x1="358.25" y1="507.7" x2="358.25" y2="510.5" stroke="#333333" stroke-width="1.1"/>
<text x="358.25" y="521.9" text-anchor="middle" font-size="12.8" fill="#4d4d4d">400</text>
<text x="116.05" y="536" font-size="13.3" fill="#000">Energy−adjusted free sugars (g/d)</text>
<text transform="translate(22.3 400.6) rotate(-90)" text-anchor="middle" font-size="13.3" fill="#000">Hazard ratio of gout</text>
<text x="11.6" y="278.9" font-size="10.5" font-weight="bold" fill="#111">(C)</text>
<text x="114" y="306.5" font-size="12.1" font-style="italic" fill="#111">P</text>
<text x="125" y="310.1" font-size="6.8" font-style="italic" fill="#111">overall</text>
<text x="148.35" y="306.5" font-size="12.2" style="font-kerning:none" fill="#111">= 0.002</text>
<text x="114" y="322.2" font-size="12.1" font-style="italic" fill="#111">P</text>
<text x="124.5" y="325.8" font-size="6.8" font-style="italic" fill="#111">nonlinear</text>
<text x="155.85" y="322.2" font-size="12.2" style="font-kerning:none" fill="#111">= 0.090</text>
<path d="M456.75 325.13 L458.03 329.11 L459.30 333.06 L460.58 336.96 L461.85 340.81 L463.13 344.60 L464.40 348.33 L465.68 351.99 L466.95 355.57 L468.23 359.08 L469.50 362.51 L470.78 365.84 L472.05 369.09 L473.33 372.24 L474.60 375.30 L475.88 378.25 L477.15 381.10 L478.43 383.85 L479.70 386.50 L480.98 389.06 L482.25 391.52 L483.53 393.88 L484.80 396.16 L486.08 398.34 L487.35 400.43 L488.63 402.43 L489.90 404.35 L491.18 406.17 L492.45 407.92 L493.73 409.58 L495.00 411.17 L496.28 412.68 L497.55 414.12 L498.83 415.50 L500.10 416.81 L501.38 418.07 L502.65 419.27 L503.93 420.43 L505.20 421.55 L506.48 422.62 L507.75 423.67 L509.03 424.69 L510.30 425.68 L511.58 426.64 L512.85 427.58 L514.13 428.49 L515.40 429.37 L516.68 430.22 L517.96 431.05 L519.23 431.85 L520.51 432.61 L521.78 433.35 L523.06 434.06 L524.33 434.73 L525.61 435.37 L526.88 435.98 L528.16 436.55 L529.43 437.09 L530.71 437.60 L531.98 438.07 L533.26 438.51 L534.53 438.91 L535.81 439.28 L537.08 439.61 L538.36 439.91 L539.63 440.18 L540.91 440.42 L542.18 440.63 L543.46 440.81 L544.73 440.97 L546.01 441.10 L547.28 441.20 L548.56 441.28 L549.83 441.34 L551.11 441.37 L552.38 441.39 L553.66 441.39 L554.93 441.36 L556.21 441.32 L557.48 441.27 L558.76 441.20 L560.03 441.11 L561.31 441.02 L562.58 440.91 L563.86 440.78 L565.13 440.64 L566.41 440.49 L567.68 440.33 L568.96 440.15 L570.23 439.96 L571.51 439.75 L572.78 439.54 L574.06 439.31 L575.33 439.07 L576.61 438.82 L577.88 438.56 L579.16 438.29 L580.44 438.01 L581.71 437.72 L582.99 437.43 L584.26 437.12 L585.54 436.81 L586.81 436.49 L588.09 436.17 L589.36 435.84 L590.64 435.50 L591.91 435.15 L593.19 434.79 L594.46 434.42 L595.74 434.04 L597.01 433.65 L598.29 433.26 L599.56 432.85 L600.84 432.43 L602.11 432.00 L603.39 431.56 L604.66 431.11 L605.94 430.64 L607.21 430.17 L608.49 429.69 L609.76 429.20 L611.04 428.70 L612.31 428.20 L613.59 427.68 L614.86 427.15 L616.14 426.62 L617.41 426.07 L618.69 425.52 L619.96 424.96 L621.24 424.39 L622.51 423.81 L623.79 423.22 L625.06 422.63 L626.34 422.02 L627.61 421.41 L628.89 420.79 L630.16 420.17 L631.44 419.53 L632.71 418.89 L633.99 418.24 L635.26 417.58 L636.54 416.91 L637.81 416.24 L639.09 415.56 L640.37 414.87 L641.64 414.17 L642.92 413.47 L644.19 412.76 L645.47 412.04 L646.74 411.32 L648.02 410.58 L649.29 409.85 L650.57 409.10 L651.84 408.34 L653.12 407.58 L654.39 406.81 L655.67 406.03 L656.94 405.25 L658.22 404.45 L659.49 403.65 L660.77 402.84 L662.04 402.02 L663.32 401.20 L664.59 400.36 L665.87 399.52 L667.14 398.67 L668.42 397.80 L669.69 396.93 L670.97 396.05 L672.24 395.16 L673.52 394.26 L674.79 393.35 L676.07 392.43 L677.34 391.49 L678.62 390.55 L679.89 389.59 L681.17 388.61 L682.44 387.63 L683.72 386.63 L684.99 385.61 L686.27 384.58 L687.54 383.53 L688.82 382.47 L690.09 381.39 L691.37 380.30 L692.64 379.19 L693.92 378.06 L695.19 376.91 L696.47 375.75 L697.74 374.57 L699.02 373.37 L700.29 372.16 L701.57 370.93 L702.85 369.69 L704.12 368.43 L705.40 367.16 L706.67 365.87 L707.95 364.57 L709.22 363.26 L710.50 361.93 L711.77 360.59 L713.05 359.24 L714.32 357.87 L715.60 356.50 L716.87 355.11 L718.15 353.71 L719.42 352.30 L720.70 350.88 L721.97 349.46 L723.25 348.02 L724.52 346.58 L725.80 345.13 L727.07 343.68 L728.35 342.22 L729.62 340.76 L730.90 339.30 L732.17 337.83 L733.45 336.36 L734.72 334.89 L736.00 333.42 L737.27 331.95 L738.55 330.48 L739.82 329.00 L741.10 327.53 L742.37 326.05 L743.65 324.58 L744.92 323.10 L746.20 321.62 L747.47 320.13 L748.75 318.65 L750.02 317.16 L751.30 315.67 L752.57 314.18 L753.85 312.69 L755.12 311.19 L756.40 309.69 L757.67 308.19 L758.95 306.68 L760.22 305.16 L761.50 303.63 L761.50 497.27 L760.22 497.11 L758.95 496.94 L757.67 496.77 L756.40 496.60 L755.12 496.43 L753.85 496.26 L752.57 496.08 L751.30 495.91 L750.02 495.73 L748.75 495.55 L747.47 495.36 L746.20 495.18 L744.92 494.99 L743.65 494.80 L742.37 494.61 L741.10 494.41 L739.82 494.21 L738.55 494.01 L737.27 493.81 L736.00 493.60 L734.72 493.40 L733.45 493.18 L732.17 492.97 L730.90 492.75 L729.62 492.53 L728.35 492.31 L727.07 492.08 L725.80 491.85 L724.52 491.62 L723.25 491.39 L721.97 491.16 L720.70 490.92 L719.42 490.68 L718.15 490.45 L716.87 490.21 L715.60 489.97 L714.32 489.72 L713.05 489.48 L711.77 489.24 L710.50 489.00 L709.22 488.76 L707.95 488.52 L706.67 488.28 L705.40 488.04 L704.12 487.80 L702.85 487.56 L701.57 487.32 L700.29 487.08 L699.02 486.85 L697.74 486.62 L696.47 486.38 L695.19 486.16 L693.92 485.93 L692.64 485.70 L691.37 485.48 L690.09 485.26 L688.82 485.05 L687.54 484.83 L686.27 484.62 L684.99 484.42 L683.72 484.21 L682.44 484.01 L681.17 483.81 L679.89 483.61 L678.62 483.42 L677.34 483.22 L676.07 483.03 L674.79 482.84 L673.52 482.66 L672.24 482.47 L670.97 482.29 L669.69 482.11 L668.42 481.93 L667.14 481.75 L665.87 481.58 L664.59 481.40 L663.32 481.23 L662.04 481.05 L660.77 480.88 L659.49 480.71 L658.22 480.55 L656.94 480.38 L655.67 480.21 L654.39 480.05 L653.12 479.89 L651.84 479.72 L650.57 479.56 L649.29 479.41 L648.02 479.25 L646.74 479.09 L645.47 478.94 L644.19 478.79 L642.92 478.64 L641.64 478.49 L640.37 478.34 L639.09 478.19 L637.81 478.05 L636.54 477.91 L635.26 477.77 L633.99 477.63 L632.71 477.49 L631.44 477.36 L630.16 477.22 L628.89 477.10 L627.61 476.97 L626.34 476.84 L625.06 476.72 L623.79 476.60 L622.51 476.49 L621.24 476.37 L619.96 476.26 L618.69 476.16 L617.41 476.05 L616.14 475.95 L614.86 475.85 L613.59 475.76 L612.31 475.67 L611.04 475.59 L609.76 475.51 L608.49 475.43 L607.21 475.37 L605.94 475.30 L604.66 475.24 L603.39 475.19 L602.11 475.15 L600.84 475.11 L599.56 475.08 L598.29 475.05 L597.01 475.03 L595.74 475.02 L594.46 475.02 L593.19 475.03 L591.91 475.05 L590.64 475.07 L589.36 475.11 L588.09 475.16 L586.81 475.21 L585.54 475.28 L584.26 475.35 L582.99 475.44 L581.71 475.53 L580.44 475.63 L579.16 475.75 L577.88 475.87 L576.61 475.99 L575.33 476.13 L574.06 476.27 L572.78 476.42 L571.51 476.57 L570.23 476.73 L568.96 476.89 L567.68 477.05 L566.41 477.22 L565.13 477.38 L563.86 477.55 L562.58 477.70 L561.31 477.86 L560.03 478.00 L558.76 478.14 L557.48 478.27 L556.21 478.39 L554.93 478.50 L553.66 478.58 L552.38 478.65 L551.11 478.69 L549.83 478.71 L548.56 478.69 L547.28 478.65 L546.01 478.57 L544.73 478.46 L543.46 478.31 L542.18 478.11 L540.91 477.87 L539.63 477.59 L538.36 477.25 L537.08 476.86 L535.81 476.42 L534.53 475.91 L533.26 475.35 L531.98 474.72 L530.71 474.03 L529.43 473.27 L528.16 472.45 L526.88 471.56 L525.61 470.60 L524.33 469.57 L523.06 468.47 L521.78 467.30 L520.51 466.05 L519.23 464.73 L517.96 463.34 L516.68 461.88 L515.40 460.35 L514.13 458.75 L512.85 457.08 L511.58 455.34 L510.30 453.55 L509.03 451.69 L507.75 449.77 L506.48 447.80 L505.20 445.76 L503.93 443.67 L502.65 441.52 L501.38 439.32 L500.10 437.06 L498.83 434.75 L497.55 432.39 L496.28 429.98 L495.00 427.52 L493.73 425.02 L492.45 422.47 L491.18 419.90 L489.90 417.29 L488.63 414.65 L487.35 412.00 L486.08 409.33 L484.80 406.66 L483.53 403.99 L482.25 401.32 L480.98 398.67 L479.70 396.04 L478.43 393.43 L477.15 390.87 L475.88 388.34 L474.60 385.86 L473.33 383.43 L472.05 381.05 L470.78 378.71 L469.50 376.42 L468.23 374.18 L466.95 371.99 L465.68 369.83 L464.40 367.72 L463.13 365.65 L461.85 363.61 L460.58 361.60 L459.30 359.63 L458.03 357.68 L456.75 355.76Z" fill="#feeae2"/>
<path d="M456.75 341.02 L458.03 343.91 L459.30 346.79 L460.58 349.67 L461.85 352.55 L463.13 355.42 L464.40 358.28 L465.68 361.13 L466.95 363.97 L468.23 366.79 L469.50 369.60 L470.78 372.40 L472.05 375.17 L473.33 377.93 L474.60 380.66 L475.88 383.37 L477.15 386.06 L478.43 388.72 L479.70 391.35 L480.98 393.94 L482.25 396.50 L483.53 399.02 L484.80 401.51 L486.08 403.94 L487.35 406.34 L488.63 408.68 L489.90 410.98 L491.18 413.22 L492.45 415.40 L493.73 417.54 L495.00 419.61 L496.28 421.64 L497.55 423.60 L498.83 425.52 L500.10 427.38 L501.38 429.19 L502.65 430.95 L503.93 432.66 L505.20 434.33 L506.48 435.95 L507.75 437.53 L509.03 439.06 L510.30 440.56 L511.58 442.01 L512.85 443.42 L514.13 444.78 L515.40 446.09 L516.68 447.36 L517.96 448.57 L519.23 449.73 L520.51 450.84 L521.78 451.90 L523.06 452.90 L524.33 453.84 L525.61 454.73 L526.88 455.57 L528.16 456.35 L529.43 457.07 L530.71 457.75 L531.98 458.36 L533.26 458.93 L534.53 459.44 L535.81 459.90 L537.08 460.32 L538.36 460.68 L539.63 461.00 L540.91 461.27 L542.18 461.51 L543.46 461.70 L544.73 461.86 L546.01 461.98 L547.28 462.07 L548.56 462.13 L549.83 462.16 L551.11 462.16 L552.38 462.14 L553.66 462.10 L554.93 462.04 L556.21 461.96 L557.48 461.86 L558.76 461.75 L560.03 461.63 L561.31 461.50 L562.58 461.36 L563.86 461.21 L565.13 461.05 L566.41 460.89 L567.68 460.72 L568.96 460.55 L570.23 460.37 L571.51 460.19 L572.78 460.01 L574.06 459.83 L575.33 459.64 L576.61 459.46 L577.88 459.27 L579.16 459.09 L580.44 458.91 L581.71 458.73 L582.99 458.55 L584.26 458.38 L585.54 458.20 L586.81 458.04 L588.09 457.87 L589.36 457.71 L590.64 457.55 L591.91 457.40 L593.19 457.25 L594.46 457.10 L595.74 456.95 L597.01 456.80 L598.29 456.65 L599.56 456.51 L600.84 456.37 L602.11 456.22 L603.39 456.08 L604.66 455.94 L605.94 455.80 L607.21 455.65 L608.49 455.51 L609.76 455.37 L611.04 455.23 L612.31 455.09 L613.59 454.95 L614.86 454.81 L616.14 454.67 L617.41 454.53 L618.69 454.39 L619.96 454.25 L621.24 454.11 L622.51 453.97 L623.79 453.83 L625.06 453.69 L626.34 453.55 L627.61 453.41 L628.89 453.27 L630.16 453.13 L631.44 452.99 L632.71 452.85 L633.99 452.71 L635.26 452.56 L636.54 452.42 L637.81 452.28 L639.09 452.14 L640.37 452.00 L641.64 451.85 L642.92 451.71 L644.19 451.57 L645.47 451.43 L646.74 451.28 L648.02 451.14 L649.29 451.00 L650.57 450.86 L651.84 450.72 L653.12 450.57 L654.39 450.43 L655.67 450.29 L656.94 450.15 L658.22 450.00 L659.49 449.86 L660.77 449.72 L662.04 449.58 L663.32 449.43 L664.59 449.29 L665.87 449.15 L667.14 449.01 L668.42 448.86 L669.69 448.72 L670.97 448.58 L672.24 448.44 L673.52 448.29 L674.79 448.15 L676.07 448.01 L677.34 447.87 L678.62 447.72 L679.89 447.58 L681.17 447.44 L682.44 447.30 L683.72 447.16 L684.99 447.01 L686.27 446.87 L687.54 446.73 L688.82 446.59 L690.09 446.45 L691.37 446.30 L692.64 446.16 L693.92 446.02 L695.19 445.88 L696.47 445.74 L697.74 445.59 L699.02 445.45 L700.29 445.31 L701.57 445.17 L702.85 445.03 L704.12 444.88 L705.40 444.74 L706.67 444.60 L707.95 444.46 L709.22 444.32 L710.50 444.17 L711.77 444.03 L713.05 443.89 L714.32 443.75 L715.60 443.61 L716.87 443.47 L718.15 443.32 L719.42 443.18 L720.70 443.04 L721.97 442.90 L723.25 442.76 L724.52 442.61 L725.80 442.47 L727.07 442.33 L728.35 442.19 L729.62 442.05 L730.90 441.90 L732.17 441.76 L733.45 441.62 L734.72 441.48 L736.00 441.34 L737.27 441.19 L738.55 441.05 L739.82 440.91 L741.10 440.77 L742.37 440.62 L743.65 440.48 L744.92 440.34 L746.20 440.20 L747.47 440.06 L748.75 439.91 L750.02 439.77 L751.30 439.63 L752.57 439.49 L753.85 439.34 L755.12 439.20 L756.40 439.06 L757.67 438.92 L758.95 438.77 L760.22 438.63 L761.50 438.49" fill="none" stroke="#d0695b" stroke-width="1.75" stroke-linejoin="round"/>
<line x1="441.59999999999997" y1="383.5" x2="777.5" y2="383.5" stroke="#000" stroke-width="2.05" stroke-dasharray="7.9 8.07"/>
<path d="M441.9 294 V507.7 H777" fill="none" stroke="#333333" stroke-width="1.1"/>
<line x1="439.09999999999997" y1="351.7" x2="441.9" y2="351.7" stroke="#333333" stroke-width="1.1"/>
<text x="437.59999999999997" y="356.0" text-anchor="end" font-size="12.8" fill="#4d4d4d">1.2</text>
<line x1="439.09999999999997" y1="415.3" x2="441.9" y2="415.3" stroke="#333333" stroke-width="1.1"/>
<text x="437.59999999999997" y="419.6" text-anchor="end" font-size="12.8" fill="#4d4d4d">0.8</text>
<line x1="439.09999999999997" y1="479" x2="441.9" y2="479" stroke="#333333" stroke-width="1.1"/>
<text x="437.59999999999997" y="483.3" text-anchor="end" font-size="12.8" fill="#4d4d4d">0.4</text>
<line x1="476" y1="507.7" x2="476" y2="510.5" stroke="#333333" stroke-width="1.1"/>
<text x="476" y="521.9" text-anchor="middle" font-size="12.8" fill="#4d4d4d">0</text>
<line x1="565.25" y1="507.7" x2="565.25" y2="510.5" stroke="#333333" stroke-width="1.1"/>
<text x="565.25" y="521.9" text-anchor="middle" font-size="12.8" fill="#4d4d4d">100</text>
<line x1="654.5" y1="507.7" x2="654.5" y2="510.5" stroke="#333333" stroke-width="1.1"/>
<text x="654.5" y="521.9" text-anchor="middle" font-size="12.8" fill="#4d4d4d">200</text>
<line x1="743.75" y1="507.7" x2="743.75" y2="510.5" stroke="#333333" stroke-width="1.1"/>
<text x="743.75" y="521.9" text-anchor="middle" font-size="12.8" fill="#4d4d4d">300</text>
<text x="494.55" y="536" font-size="13.3" fill="#000">Energy−adjusted non−free sugars (g/d)</text>
<text transform="translate(414.6 400.85) rotate(-90)" text-anchor="middle" font-size="13.3" fill="#000">Hazard ratio of gout</text>
<text x="406.5" y="279.3" font-size="10.5" font-weight="bold" fill="#111">(D)</text>
<text x="474" y="307.9" font-size="12.1" font-style="italic" fill="#111">P</text>
<text x="484.75" y="311.5" font-size="6.8" font-style="italic" fill="#111">overall</text>
<text x="507.8" y="307.9" font-size="12.2" style="font-kerning:none" fill="#111">= 1.239 x 10<tspan dy="-5.6" font-size="5.8">-9</tspan></text>
<text x="474" y="322.4" font-size="12.1" font-style="italic" fill="#111">P</text>
<text x="484.25" y="326.0" font-size="6.8" font-style="italic" fill="#111">nonlinear</text>
<text x="515.2" y="322.4" font-size="12.2" style="font-kerning:none" fill="#111">= 7.317 x 10<tspan dy="-5.6" font-size="5.8">-4</tspan></text>
</svg>
</body>
</html>
